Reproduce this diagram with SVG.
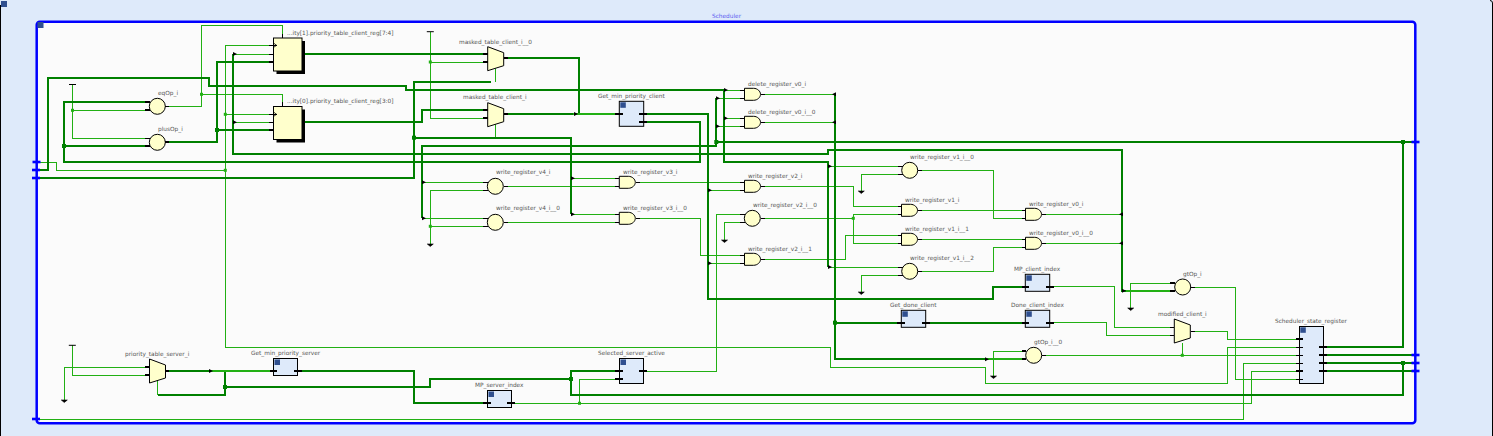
<svg xmlns="http://www.w3.org/2000/svg" width="1493" height="436" viewBox="0 0 1493 436">
<style>
text{font-family:"DejaVu Sans",sans-serif;font-size:5.8px;fill:#555}
.t,.k,.b,.p,.pk{fill:none;stroke-linejoin:miter}
.t{stroke:#22b014;stroke-width:1;shape-rendering:crispEdges}
.k{stroke:#008000;stroke-width:2;shape-rendering:crispEdges}
.b{stroke:#22b014;stroke-width:2;shape-rendering:crispEdges}
.p{stroke:#000;stroke-width:1;shape-rendering:crispEdges}
.pk{stroke:#000;stroke-width:2;shape-rendering:crispEdges}
.s{fill:#ffffcc;stroke:#000;stroke-width:1}
.m{fill:#deeafa;stroke:#000;stroke-width:1}
.q{fill:#2f4f8f}
.dt{fill:#22b014}
.dk{fill:#008000}
.portb{fill:#0000ff}
</style>
<defs>
<path id="gate" class="s" d="M0,0H9C13,0 16,3 16,6C16,9 13,12 9,12H0Z"/>
<circle id="circ" class="s" r="8"/>
<path id="mux" class="s" d="M0,0L16,6V19L0,24Z"/>
<path id="fr" d="M0,-2L4,0L0,2Z" fill="#000"/>
<path id="fl" d="M0,-2L-4,0L0,2Z" fill="#000"/>
<path id="gnd" d="M-3,0H3L0,2.5Z" fill="#000" stroke="#000" stroke-width="0.6"/>
<path id="tee" d="M-3.5,0H3.5" stroke="#000" stroke-width="1"/>
<rect id="dot" x="-1.5" y="-1.5" width="3" height="3" class="dt"/>
<rect id="dotk" x="-2" y="-2" width="4" height="4" class="dk"/>
<rect id="pb" x="-4" y="-1.3" width="8" height="2.6" class="portb"/>
</defs>
<rect x="0" y="0" width="1493" height="436" fill="#deeafa"/>
<path d="M0.5,5V436M1490,0.5Q1492.5,0.5 1492.5,3V436" stroke="#000" stroke-width="1" fill="none"/>
<rect x="1" y="1" width="6" height="6" class="q"/>
<g id="Scheduler">
<rect x="36.7" y="21.7" width="1378.6" height="401.6" rx="3" fill="#fbfbfb" stroke="#0000ff" stroke-width="2.5"/>
<rect x="37.5" y="22" width="6" height="6" class="q"/>
<text x="712" y="18" style="fill:#5a5af0">Scheduler</text>
</g>
<g id="connectors">
<path class="t" d="M40,162H56.5V170.3H225.3M225.3,45.3H273M225.3,45.3V347.3H830V367.3H985.7V383.3H1227.5V347.3H1296M225.3,114.3H273"/>
<path class="t" d="M165,106.3H201.5V25.3H282.5V38M201.5,94.3H282.5V106.5"/>
<path class="t" d="M72.5,84.5V138.3H149M72.5,110.3H149"/>
<path class="t" d="M233,54H273M233,122.3H273"/>
<path class="t" d="M430.3,31.7V118H487M430.3,62H487"/>
<path class="t" d="M422,182.3H487M422,218.3H487M487,190.3H430.3V244M430.3,226.3H487"/>
<path class="t" d="M503.5,186.3H619M503.5,222.3H619M571,178.3H619M571,214.3H619"/>
<path class="t" d="M636,182.3H744M636,218.3H700.5V255.3H744M708,190.3H744M708,263.3H744"/>
<path class="t" d="M716,98.3H744M716,126.3H744M724,90H744M724,118.3H744M760.5,94.3H835M760.5,122.3H835"/>
<path class="t" d="M643.5,371H716.5V214.3H744M744,222.3H724.5V240"/>
<path class="t" d="M760.5,218.3H853.3M853.3,214.3V243.3M853.3,214.3H902M853.3,243.3H902M760.5,186.3H853.3V206.7H902M760.5,259.3H845.7V235.3H902"/>
<path class="t" d="M828,166.3H902M828,267H902M902,174.3H861.3V191M902,275.3H861.3V292"/>
<path class="t" d="M917.5,170.3H993.5V218.3H1026M917.5,210.3H1026M917.5,239.3H1026M917.5,271.3H993.5V247.3H1026M1041.5,214.3H1122M1041.5,243.3H1122"/>
<path class="t" d="M1049.7,286.7H1114.7V327.3H1174M1049.7,322.7H1106.7V335.3H1174M1174,283.3H1130.7V308M1190.7,287H1235.7V379.3H1296M1190.7,331.3H1227.5V339.3H1296"/>
<path class="t" d="M1041.7,355.3H1296M1182.3,355.3V343M1026,351.3H993.5V376"/>
<path class="t" d="M511.5,403.3H1251.3V371.3H1296M579.5,403.3V379H619M40,419.3H1243.5V363.3H1296"/>
<path class="t" d="M146,367H64.3V400M72.3,345.3V375H146M157.5,381V395"/>
<path class="t" d="M495.3,67V82M495.3,123V137.7"/>
<path class="k" d="M37,170H48.3V78H209V86H406V90H724.3V161.7H828V267"/>
<path class="k" d="M37,178H414V81.7H491M414,137.7H571V214"/>
<path class="k" d="M145,102H64V162H700V121.7H645M64,146.3H145"/>
<path class="k" d="M233,54V154H828V149.7H1122.3V290.7H1126"/>
<path class="k" d="M273,62H217V142H165M217,130H273"/>
<path class="k" d="M302,54H483M302,122H422V110H483"/>
<path class="k" d="M504,58H579V114M504,114H573"/>
<path class="k" d="M645,114H708V299H993.3V286.7H1022M708,299H835M835,94.3V359H985M835,322.7H897M929,322.7H1022"/>
<path class="k" d="M1415,142H716.3V98M716.3,142V146H422V218"/>
<path class="k" d="M1327,346.7H1403V142M1327,355H1415M1327,363H1415M1327,371H1415M1403,363V395H571V371H616M571,379H430V387H225M225,372V395H158"/>
<path class="k" d="M165,371H210M301,371H414V403H484"/>
<path class="b" d="M573,114H615M987,359.3H1023M1126,290.7H1170M211,371H270"/>
<use href="#dot" x="201.5" y="94.3"/><use href="#dot" x="72.5" y="110.3"/><use href="#dot" x="225.3" y="114.3"/><use href="#dot" x="225.3" y="170.3"/><use href="#dot" x="430.3" y="62"/><use href="#dot" x="430.3" y="226.3"/><use href="#dot" x="853.3" y="218.3"/><use href="#dot" x="1182.3" y="355.3"/><use href="#dot" x="579.5" y="403.3"/>
<use href="#dotk" x="64" y="146"/><use href="#dotk" x="217" y="130"/><use href="#dotk" x="716.3" y="142"/><use href="#dotk" x="414" y="137.7"/><use href="#dotk" x="835" y="322.7"/><use href="#dotk" x="1403" y="142"/><use href="#dotk" x="1403" y="363"/><use href="#dotk" x="571" y="379"/><use href="#dotk" x="225" y="387"/>
<use href="#fr" x="233" y="54"/><use href="#fr" x="233" y="122.3"/><use href="#fr" x="422" y="182.3"/><use href="#fr" x="422" y="218.3"/><use href="#fr" x="571" y="178.3"/><use href="#fr" x="571" y="214.3"/><use href="#fr" x="708" y="190.3"/><use href="#fr" x="708" y="263.3"/><use href="#fr" x="716" y="98.3"/><use href="#fr" x="716" y="126.3"/><use href="#fr" x="724" y="90"/><use href="#fr" x="724" y="118.3"/><use href="#fr" x="828" y="166.3"/><use href="#fr" x="828" y="267"/><use href="#fr" x="1122" y="290.7"/><use href="#fr" x="985" y="359.3"/><use href="#fr" x="574" y="114"/><use href="#fr" x="209" y="371"/>
<use href="#fl" x="836" y="94.3"/><use href="#fl" x="836" y="122.3"/><use href="#fl" x="1123" y="214.3"/><use href="#fl" x="1123" y="243.3"/>
<use href="#gnd" x="430.3" y="244"/><use href="#gnd" x="724.5" y="240"/><use href="#gnd" x="861.3" y="191"/><use href="#gnd" x="861.3" y="292"/><use href="#gnd" x="1130.7" y="308"/><use href="#gnd" x="993.5" y="376"/><use href="#gnd" x="64.3" y="400"/>
<use href="#tee" x="72.5" y="84.5"/><use href="#tee" x="430.3" y="31.7"/><use href="#tee" x="72.3" y="345.3"/>
<use href="#pb" x="36.5" y="162"/><use href="#pb" x="36" y="170"/><use href="#pb" x="36" y="178"/><use href="#pb" x="36" y="419"/><use href="#pb" x="1415.5" y="142"/><use href="#pb" x="1415.5" y="355"/><use href="#pb" x="1415.5" y="363"/><use href="#pb" x="1415.5" y="371"/>
</g>
<g id="reg1"><rect x="276.5" y="41" width="28.5" height="33" fill="#000"/><rect x="273.5" y="38" width="28.5" height="33" class="s"/><path class="p" d="M269,45.3H277M269,54H273M282.5,34V38"/><path d="M273.5,43L276.5,45.3L273.5,47.5" fill="none" stroke="#000" stroke-width="0.8"/><path class="pk" d="M269,62H273.5"/><text x="287" y="35">...ity[1].priority_table_client_reg[7:4]</text></g>
<g id="reg0"><rect x="276.5" y="109.5" width="28.5" height="33" fill="#000"/><rect x="273.5" y="106.5" width="28.5" height="33" class="s"/><path class="p" d="M269,114.3H277M269,122.3H273M282.5,102V106.5"/><path d="M273.5,112L276.5,114.3L273.5,116.5" fill="none" stroke="#000" stroke-width="0.8"/><path class="pk" d="M269,130H273.5"/><text x="287" y="103">...ity[0].priority_table_client_reg[3:0]</text></g>
<g id="eqOp_i"><use href="#circ" x="157.3" y="106.3"/><path class="pk" d="M145,102H150M145,110.3H150"/><path class="p" d="M165,106.3H169"/><text x="158" y="95">eqOp_i</text></g>
<g id="plusOp_i"><use href="#circ" x="157.3" y="142.3"/><path class="pk" d="M145,146.3H150M165,142H169"/><path class="p" d="M145,138.3H150"/><text x="158" y="131">plusOp_i</text></g>
<g id="masked_table_client_i__0"><use href="#mux" x="487.7" y="46.7"/><path class="pk" d="M483,54H488M483,62H488M504,58H508"/><text x="459" y="43.5">masked_table_client_i__0</text></g>
<g id="masked_table_client_i"><use href="#mux" x="487.7" y="102.7"/><path class="pk" d="M483,110H488M483,118H488M504,114H508"/><text x="463" y="99">masked_table_client_i</text></g>
<g id="write_register_v4_i"><use href="#circ" x="495.3" y="186.3"/><path class="p" d="M483,182.3H488M483,190.3H488M503.5,186.3H508"/><text x="496" y="174">write_register_v4_i</text></g>
<g id="write_register_v4_i__0"><use href="#circ" x="495.3" y="222.3"/><path class="p" d="M483,218.3H488M483,226.3H488M503.5,222.3H508"/><text x="496" y="210">write_register_v4_i__0</text></g>
<g id="Get_min_priority_client"><rect x="619.3" y="101.3" width="24.4" height="25" class="m"/><rect x="620.3" y="102.3" width="5.5" height="5.5" class="q"/><path class="pk" d="M615,114H623M639,114H647M639,122H647"/><text x="598" y="98">Get_min_priority_client</text></g>
<g id="write_register_v3_i"><use href="#gate" x="619.3" y="176.3"/><path class="p" d="M615,178.3H619M615,186.3H619M636,182.3H640"/><text x="623" y="174">write_register_v3_i</text></g>
<g id="write_register_v3_i__0"><use href="#gate" x="619.3" y="212.3"/><path class="p" d="M615,214.3H619M615,222.3H619M636,218.3H640"/><text x="623" y="210">write_register_v3_i__0</text></g>
<g id="delete_register_v0_i"><use href="#gate" x="744.5" y="88.3"/><path class="p" d="M740,90H744M740,98.3H744M760.5,94.3H765"/><text x="748" y="86">delete_register_v0_i</text></g>
<g id="delete_register_v0_i__0"><use href="#gate" x="744.5" y="116.3"/><path class="p" d="M740,118.3H744M740,126.3H744M760.5,122.3H765"/><text x="748" y="114">delete_register_v0_i__0</text></g>
<g id="write_register_v2_i"><use href="#gate" x="744.5" y="180.3"/><path class="p" d="M740,182.3H744M740,190.3H744M760.5,186.3H765"/><text x="748" y="178">write_register_v2_i</text></g>
<g id="write_register_v2_i__0"><use href="#circ" x="752.3" y="218.3"/><path class="p" d="M740,214.3H745M740,222.3H745M760.5,218.3H765"/><text x="753" y="206.5">write_register_v2_i__0</text></g>
<g id="write_register_v2_i__1"><use href="#gate" x="744.5" y="253.3"/><path class="p" d="M740,255.3H744M740,263.3H744M760.5,259.3H765"/><text x="748" y="251">write_register_v2_i__1</text></g>
<g id="write_register_v1_i__0"><use href="#circ" x="909.7" y="170.3"/><path class="p" d="M898,166.3H903M898,174.3H903M917.5,170.3H922"/><text x="910" y="159">write_register_v1_i__0</text></g>
<g id="write_register_v1_i"><use href="#gate" x="901.5" y="204.3"/><path class="p" d="M898,206.7H902M898,214.3H902M917.5,210.3H922"/><text x="905" y="202">write_register_v1_i</text></g>
<g id="write_register_v1_i__1"><use href="#gate" x="901.5" y="233.3"/><path class="p" d="M898,235.3H902M898,243.3H902M917.5,239.3H922"/><text x="905" y="231">write_register_v1_i__1</text></g>
<g id="write_register_v1_i__2"><use href="#circ" x="909.7" y="271.3"/><path class="p" d="M898,267H903M898,275.3H903M917.5,271.3H922"/><text x="910" y="260">write_register_v1_i__2</text></g>
<g id="write_register_v0_i"><use href="#gate" x="1025.5" y="208.3"/><path class="p" d="M1022,210.3H1026M1022,218.3H1026M1041.5,214.3H1046"/><text x="1029" y="206">write_register_v0_i</text></g>
<g id="write_register_v0_i__0"><use href="#gate" x="1025.5" y="237.3"/><path class="p" d="M1022,239.3H1026M1022,247.3H1026M1041.5,243.3H1046"/><text x="1029" y="235">write_register_v0_i__0</text></g>
<g id="MP_client_index"><rect x="1025.3" y="274.3" width="24.4" height="17" class="m"/><rect x="1026.3" y="275.3" width="5.5" height="5.5" class="q"/><path class="pk" d="M1022,286.7H1029M1046,286.7H1054"/><text x="1014" y="271">MP_client_index</text></g>
<g id="Get_done_client"><rect x="901.3" y="310.3" width="24.4" height="17" class="m"/><rect x="902.3" y="311.3" width="5.5" height="5.5" class="q"/><path class="pk" d="M897,322.7H905M922,322.7H930"/><text x="890" y="307">Get_done_client</text></g>
<g id="Done_client_index"><rect x="1025.3" y="310.3" width="24.4" height="17" class="m"/><rect x="1026.3" y="311.3" width="5.5" height="5.5" class="q"/><path class="pk" d="M1022,322.7H1029M1046,322.7H1054"/><text x="1011" y="307">Done_client_index</text></g>
<g id="gtOp_i"><use href="#circ" x="1182.7" y="287"/><path class="pk" d="M1170,283.3H1175M1170,290.7H1175"/><path class="p" d="M1190.7,287H1195"/><text x="1183" y="276">gtOp_i</text></g>
<g id="modified_client_i"><use href="#mux" x="1174.3" y="319"/><path class="p" d="M1170,327.3H1174M1170,335.3H1174M1190.7,331.3H1195"/><text x="1158" y="316">modified_client_i</text></g>
<g id="gtOp_i__0"><use href="#circ" x="1033.7" y="355.3"/><path class="pk" d="M1022,351.3H1026M1022,359.3H1026"/><path class="p" d="M1041.7,355.3H1046"/><text x="1034" y="344">gtOp_i__0</text></g>
<g id="Scheduler_state_register"><rect x="1299.5" y="326.5" width="24" height="57" class="m"/><rect x="1300.3" y="327.3" width="5.5" height="5.5" class="q"/><path class="pk" d="M1296,339H1303M1296,371H1303M1319,346.7H1327M1319,355H1327M1319,363H1327M1319,371H1327"/><path class="p" d="M1296,347.3H1303M1296,355.3H1303M1296,363.3H1303M1296,379.3H1303"/><text x="1275" y="323">Scheduler_state_register</text></g>
<g id="priority_table_server_i"><use href="#mux" x="149.5" y="359"/><path class="pk" d="M145,367H150M145,375H150M165.5,371H169"/><text x="125" y="356">priority_table_server_i</text></g>
<g id="Get_min_priority_server"><rect x="273.5" y="358.5" width="24" height="17" class="m"/><rect x="274.5" y="359.5" width="5.5" height="5.5" class="q"/><path class="pk" d="M270,371H277M294,371H302"/><text x="251" y="355">Get_min_priority_server</text></g>
<g id="Selected_server_active"><rect x="619.5" y="358.5" width="24" height="25" class="m"/><rect x="620.5" y="359.5" width="5.5" height="5.5" class="q"/><path class="pk" d="M615,371H623M615,379H623M639,371H647"/><text x="598" y="355">Selected_server_active</text></g>
<g id="MP_server_index"><rect x="487.5" y="390.5" width="24" height="17" class="m"/><rect x="488.5" y="391.5" width="5.5" height="5.5" class="q"/><path class="pk" d="M483,403H491M507,403H515"/><text x="475" y="387">MP_server_index</text></g>
</svg>
